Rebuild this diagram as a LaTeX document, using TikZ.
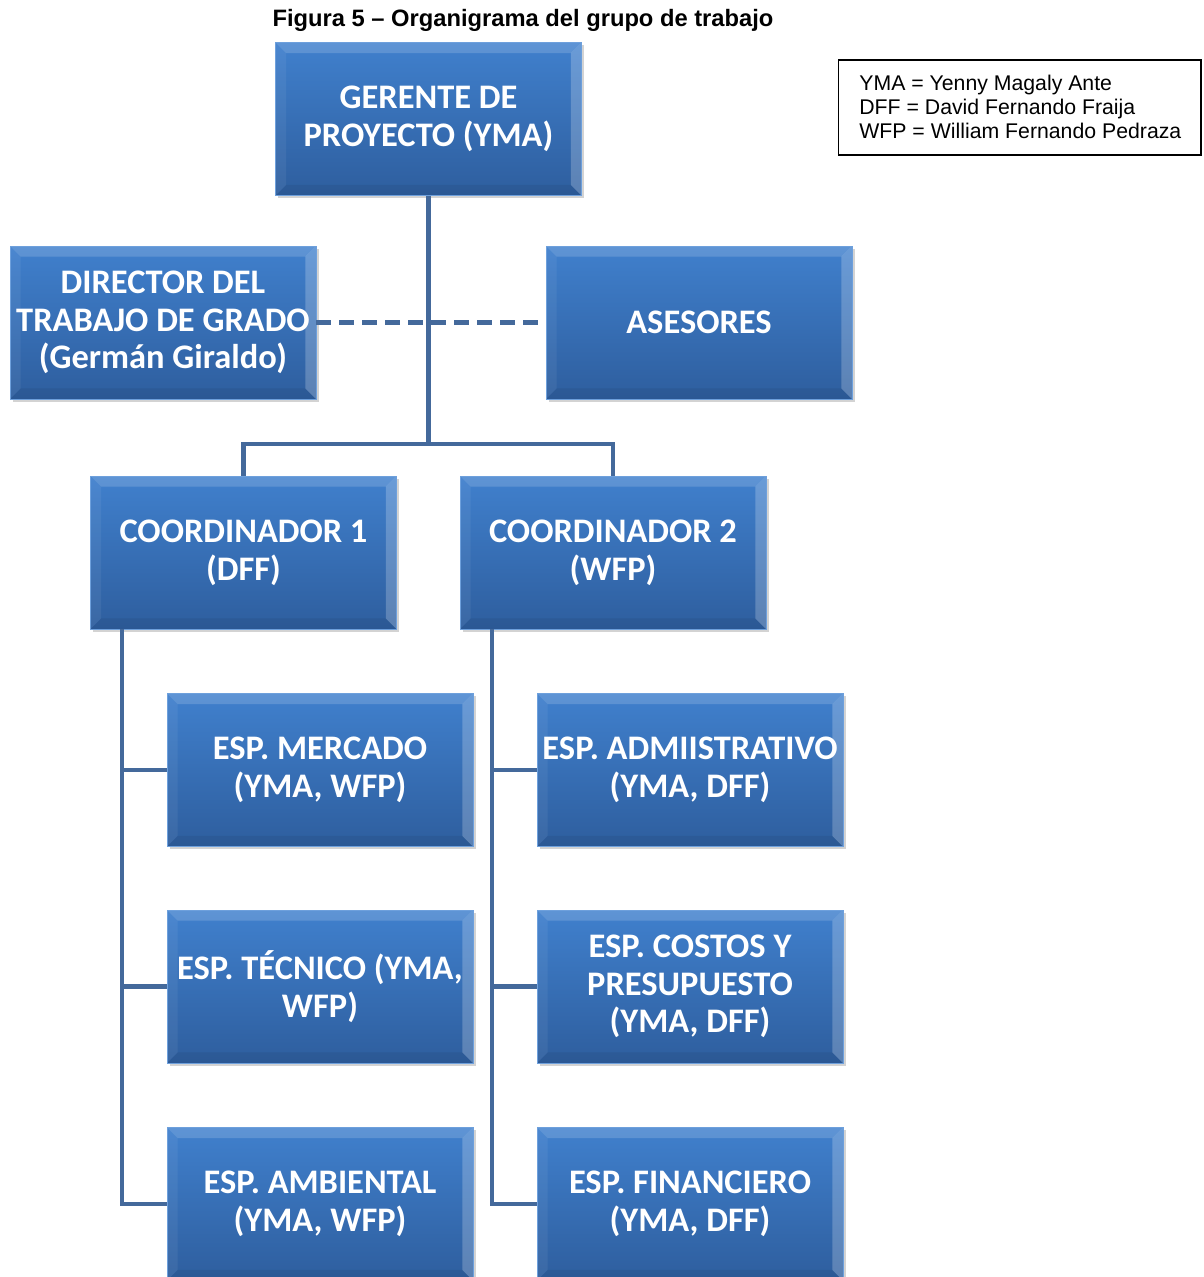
\documentclass[tikz,border=0pt]{standalone}
\usepackage{fontspec}
\setmainfont{Carlito}
\newfontfamily\arialfont{Liberation Sans}
\usepackage{tikz}
\usetikzlibrary{positioning,calc,shadows}
\definecolor{boxtop}{RGB}{64,128,205}
\definecolor{boxbot}{RGB}{46,94,158}
\definecolor{boxedge}{RGB}{110,160,220}
\definecolor{linkblue}{RGB}{68,105,155}

\begin{document}
\begin{tikzpicture}[x=0.02cm, y=-0.02cm,
    orgbox/.style={rectangle, minimum width=6.12cm, minimum height=3.06cm, inner sep=0pt,
      top color=boxtop, bottom color=boxbot, draw=boxedge, line width=0.4pt,
      drop shadow={shadow xshift=1.5pt, shadow yshift=-1.5pt, opacity=0.35},
      text=white, align=center,
      font=\fontsize{19.6}{21.5}\selectfont\bfseries,
      path picture={
        \coordinate (nw) at (path picture bounding box.north west);
        \coordinate (ne) at (path picture bounding box.north east);
        \coordinate (sw) at (path picture bounding box.south west);
        \coordinate (se) at (path picture bounding box.south east);
        \fill[white, opacity=0.16] (nw) -- (ne) -- ($(ne)+(-6pt,-6pt)$) -- ($(nw)+(6pt,-6pt)$) -- cycle;
        \fill[white, opacity=0.06] (nw) -- (sw) -- ($(sw)+(6pt,6pt)$) -- ($(nw)+(6pt,-6pt)$) -- cycle;
        \fill[white, opacity=0.22] (ne) -- (se) -- ($(se)+(-6pt,6pt)$) -- ($(ne)+(-6pt,-6pt)$) -- cycle;
        \fill[black, opacity=0.06] (sw) -- (se) -- ($(se)+(-6pt,6pt)$) -- ($(sw)+(6pt,6pt)$) -- cycle;
      }},
    link/.style={draw=linkblue, line width=2.6pt},
    advice/.style={draw=linkblue, line width=2.6pt, dash pattern=on 0.3cm off 0.16cm}]
  \useasboundingbox (0,0) rectangle (1203,1277);

  % title and legend
  \node[font=\arialfont\fontsize{13.5}{15}\selectfont\bfseries] (title) at (523,20) {Figura 5 – Organigrama del grupo de trabajo};
  \node[draw=black, line width=0.6pt, minimum width=7.26cm, minimum height=1.9cm, inner sep=0pt] (legend) at (1019.5,107.5) {};
  \node[anchor=west, align=left, inner sep=0pt, font=\arialfont\fontsize{12.1}{13.6}\selectfont] (legtext) at (859,107) {YMA = Yenny Magaly Ante\\DFF = David Fernando Fraija\\WFP = William Fernando Pedraza};

  % top levels
  \node[orgbox] (ger) at (428.5,119) {GERENTE DE\\PROYECTO (YMA)};
  \node[orgbox] (dir) at (163,322.5) {DIRECTOR DEL\\TRABAJO DE GRADO\\(Germán Giraldo)};
  \node[orgbox] (ase) at (699,322.5) {ASESORES};
  \node[orgbox] (co1) at (243.5,552.5) {COORDINADOR 1\\(DFF)};
  \node[orgbox] (co2) at (613,552.5) {COORDINADOR 2\\(WFP)};

  % specialists
  \node[orgbox] (mer) at (320,770) {ESP. MERCADO\\(YMA, WFP)};
  \node[orgbox] (tec) at (320,986.5) {ESP. TÉCNICO (YMA,\\WFP)};
  \node[orgbox] (amb) at (320,1204) {ESP. AMBIENTAL\\(YMA, WFP)};
  \node[orgbox] (adm) at (690,770) {ESP. ADMIISTRATIVO\\(YMA, DFF)};
  \node[orgbox] (cos) at (690,986.5) {ESP. COSTOS Y\\PRESUPUESTO\\(YMA, DFF)};
  \node[orgbox] (fin) at (690,1204) {ESP. FINANCIERO\\(YMA, DFF)};

  % junctions
  \coordinate (split) at (428.5,444);
  \coordinate (trunk1) at (122,0);
  \coordinate (trunk2) at (492,0);

  % connectors
  \draw[advice] (dir.east) -- (ase.west);
  \draw[link] (ger.south) -- (split);
  \draw[link] (co1.north) |- (split) -| (co2.north);
  \draw[link] (co1.south -| trunk1) |- (amb.west);
  \draw[link] (trunk1 |- mer.west) -- (mer.west);
  \draw[link] (trunk1 |- tec.west) -- (tec.west);
  \draw[link] (co2.south -| trunk2) |- (fin.west);
  \draw[link] (trunk2 |- adm.west) -- (adm.west);
  \draw[link] (trunk2 |- cos.west) -- (cos.west);
\end{tikzpicture}
\end{document}
